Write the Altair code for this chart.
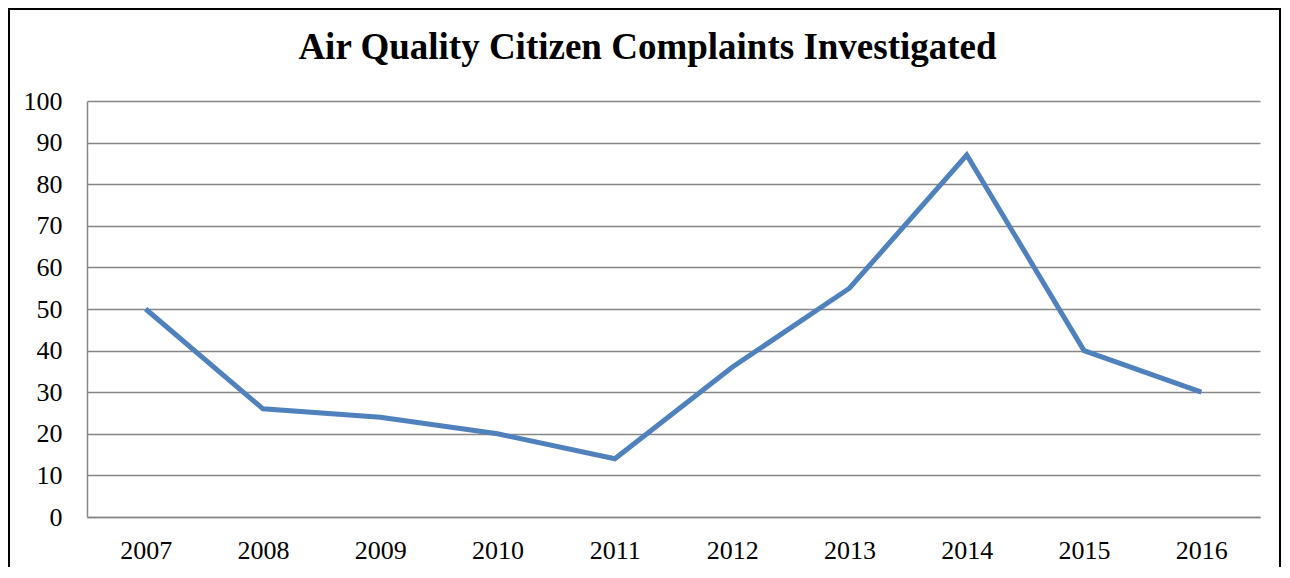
import altair as alt
import pandas as pd

years = ["2007", "2008", "2009", "2010", "2011", "2012", "2013", "2014", "2015", "2016"]
complaints = [50, 26, 24, 20, 14, 36, 55, 87, 40, 30]
y_ticks = [0, 10, 20, 30, 40, 50, 60, 70, 80, 90, 100]
title_text = "Air Quality Citizen Complaints Investigated"

df = pd.DataFrame({"year": years, "value": complaints})

FONT = "Liberation Serif"
GRID = "#868686"

border = alt.Chart(pd.DataFrame({"a": [0]})).mark_rect(
    filled=False, stroke="black", strokeWidth=2
).encode(
    x=alt.value(-78), x2=alt.value(1193), y=alt.value(-92), y2=alt.value(495)
)

line = alt.Chart(df).mark_line(color="#4F81BD", strokeWidth=5).encode(
    x=alt.X(
        "year:O",
        sort=years,
        scale=alt.Scale(type="point", padding=0.5),
        axis=alt.Axis(
            title=None, labelAngle=0, ticks=False, domainColor=GRID, domainWidth=1.5,
            labelFont=FONT, labelFontSize=26, labelColor="black", labelPadding=20,
        ),
    ),
    y=alt.Y(
        "value:Q",
        scale=alt.Scale(domain=[0, 100], nice=False),
        axis=alt.Axis(
            title=None, values=y_ticks, ticks=False, grid=True, gridColor=GRID,
            gridWidth=1.5, gridOpacity=1, domainColor=GRID, domainWidth=1.5,
            labelFont=FONT, labelFontSize=26, labelColor="black", labelPadding=25,
        ),
    ),
)

chart = alt.layer(border, line).properties(
    width=1173,
    height=416,
    title=alt.TitleParams(
        title_text, font=FONT, fontSize=37, fontWeight="bold", color="black",
        anchor="middle", frame="group", dx=-26, baseline="alphabetic", offset=-88,
    ),
    autosize=alt.AutoSizeParams(type="none"),
    padding={"left": 79, "top": 93, "right": 22, "bottom": 50},
).configure_view(stroke=None)

chart.save("out.html", embed_options={"renderer": "svg", "actions": False})
